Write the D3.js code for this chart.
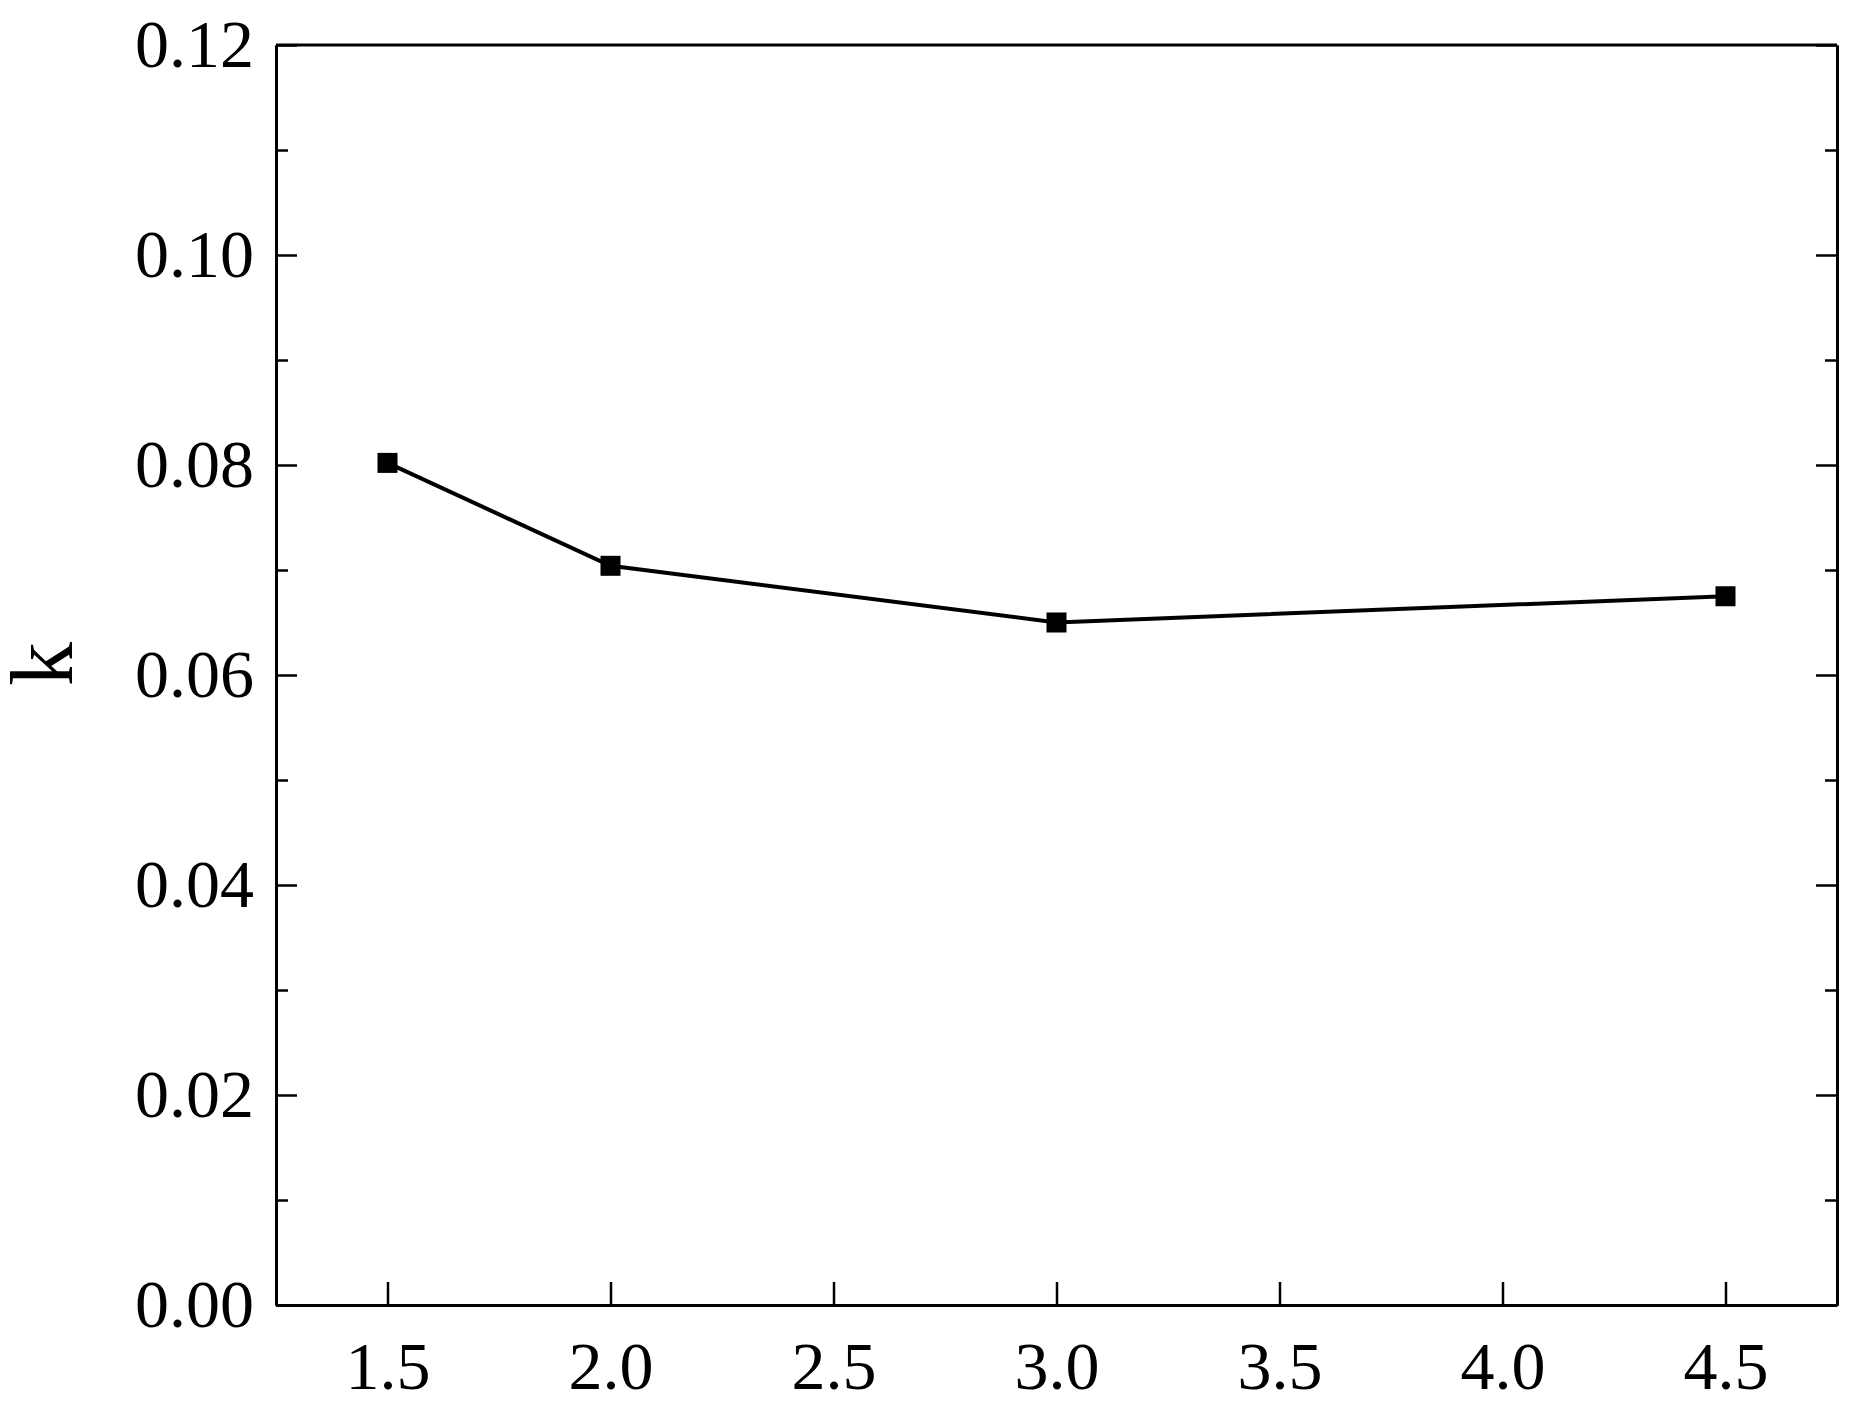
<!DOCTYPE html>
<html><head><meta charset="utf-8">
<script src="https://cdn.jsdelivr.net/npm/d3@7"></script>
<style>body{margin:0;background:#fff}</style></head>
<body><svg width="1858" height="1408"></svg>
<script>
const xValues = [1.5, 2.0, 3.0, 4.5];
const kValues = [0.0802, 0.0704, 0.0650, 0.0675];
const xTicks = [1.5, 2.0, 2.5, 3.0, 3.5, 4.0, 4.5];
const yTicks = [0, 0.02, 0.04, 0.06, 0.08, 0.10, 0.12];
const yMinor = [0.01, 0.03, 0.05, 0.07, 0.09, 0.11];

const svg = d3.select('svg');
const mLeft = 276, mRight = 1837, mTop = 45, mBottom = 1305;
const x = d3.scaleLinear().domain([1.25, 4.75]).range([mLeft, mRight]);
const y = d3.scaleLinear().domain([0, 0.12]).range([mBottom, mTop]);
const font = '"Liberation Serif", "Times New Roman", serif';

svg.append('g').attr('transform', `translate(0,${mBottom})`)
  .call(d3.axisBottom(x).tickValues(xTicks).tickFormat(d3.format('.1f')).tickSizeInner(-23).tickSizeOuter(0).tickPadding(36));
svg.append('g').attr('transform', `translate(${mLeft},0)`)
  .call(d3.axisLeft(y).tickValues(yTicks).tickFormat(d3.format('.2f')).tickSizeInner(-21).tickSizeOuter(0).tickPadding(22));
svg.append('g').attr('transform', `translate(${mLeft},0)`)
  .call(d3.axisLeft(y).tickValues(yMinor).tickFormat('').tickSizeInner(-12).tickSizeOuter(0));
svg.append('g').attr('transform', `translate(${mRight},0)`)
  .call(d3.axisRight(y).tickValues(yTicks).tickFormat('').tickSizeInner(-21).tickSizeOuter(0));
svg.append('g').attr('transform', `translate(${mRight},0)`)
  .call(d3.axisRight(y).tickValues(yMinor).tickFormat('').tickSizeInner(-12).tickSizeOuter(0));
svg.append('line').attr('x1', mLeft).attr('x2', mRight).attr('y1', mTop).attr('y2', mTop).attr('stroke', '#000').attr('stroke-width', 3);

svg.selectAll('.domain').attr('stroke-width', 3);
svg.selectAll('.tick line').attr('stroke-width', 2.5);
svg.selectAll('.tick text').attr('font-family', font).attr('font-size', 68).attr('fill', '#000');

svg.append('text').attr('transform', `translate(72,664) rotate(-90)`)
  .attr('text-anchor', 'middle').attr('font-family', font).attr('font-size', 88).text('k');

const pts = xValues.map((v, i) => [v, kValues[i]]);
svg.append('path').datum(pts)
  .attr('d', d3.line().x(d => x(d[0])).y(d => y(d[1])))
  .attr('fill', 'none').attr('stroke', '#000').attr('stroke-width', 4);
svg.selectAll('rect.pt').data(pts).join('rect').attr('class', 'pt')
  .attr('x', d => x(d[0]) - 10).attr('y', d => y(d[1]) - 10)
  .attr('width', 20).attr('height', 20).attr('fill', '#000');
</script></body></html>
